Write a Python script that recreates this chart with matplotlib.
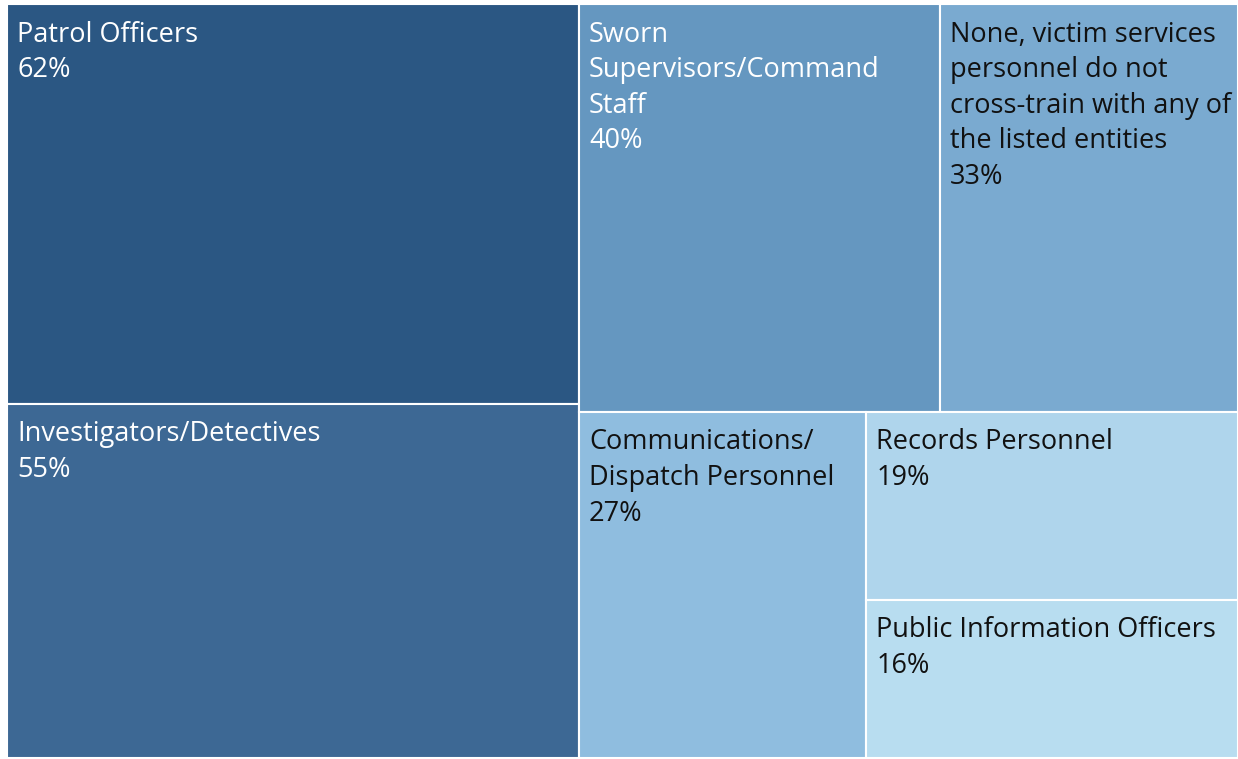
import matplotlib.pyplot as plt
from matplotlib.patches import Rectangle

plt.rcParams['font.family'] = ['Open Sans', 'DejaVu Sans']

labels = ['Patrol Officers', 'Investigators/Detectives',
          'Sworn\nSupervisors/Command\nStaff',
          'None, victim services\npersonnel do not\ncross-train with any of\nthe listed entities',
          'Communications/\nDispatch Personnel', 'Records Personnel',
          'Public Information Officers']
values = [62, 55, 40, 33, 27, 19, 16]
colors = ['#2b5783', '#3d6894', '#6597c0', '#7aaad0', '#8fbddf', '#afd5ec', '#b8ddf0']
text_colors = ['white', 'white', 'white', '#111111', '#111111', '#111111', '#111111']

# tableau-style nesting: left column [0,1], top row [2,3], then [4] and column [5,6]
total = sum(values)
W, H = 1231.0, 754.0
rects = []
left_w = W * (values[0] + values[1]) / total
h0 = H * values[0] / (values[0] + values[1])
rects.append((0, 0, left_w, h0))
rects.append((0, h0, left_w, H - h0))
rw = W - left_w
rest = total - values[0] - values[1]
top_h = H * (values[2] + values[3]) / rest
w2 = rw * values[2] / (values[2] + values[3])
rects.append((left_w, 0, w2, top_h))
rects.append((left_w + w2, 0, rw - w2, top_h))
bh = H - top_h
rest2 = values[4] + values[5] + values[6]
w4 = rw * values[4] / rest2
rects.append((left_w, top_h, w4, bh))
h5 = bh * values[5] / (values[5] + values[6])
rects.append((left_w + w4, top_h, rw - w4, h5))
rects.append((left_w + w4, top_h + h5, rw - w4, bh - h5))

fig = plt.figure(figsize=(12.38, 7.59), dpi=100)
ax = fig.add_axes([7 / 1238, 1 - 758 / 759, W / 1238, H / 759])
ax.set_xlim(0, W)
ax.set_ylim(H, 0)
ax.axis('off')

for (x, y, w, h), lab, v, c, tc in zip(rects, labels, values, colors, text_colors):
    ax.add_patch(Rectangle((x, y), w, h, facecolor=c, edgecolor='white', linewidth=1.5))
    ax.annotate(lab + '\n' + str(v) + '%', (x, y), xytext=(7.5, -12), textcoords='offset points',
                ha='left', va='top', color=tc, fontsize=19.5, linespacing=1.36)

plt.savefig('out.png', dpi=100)
